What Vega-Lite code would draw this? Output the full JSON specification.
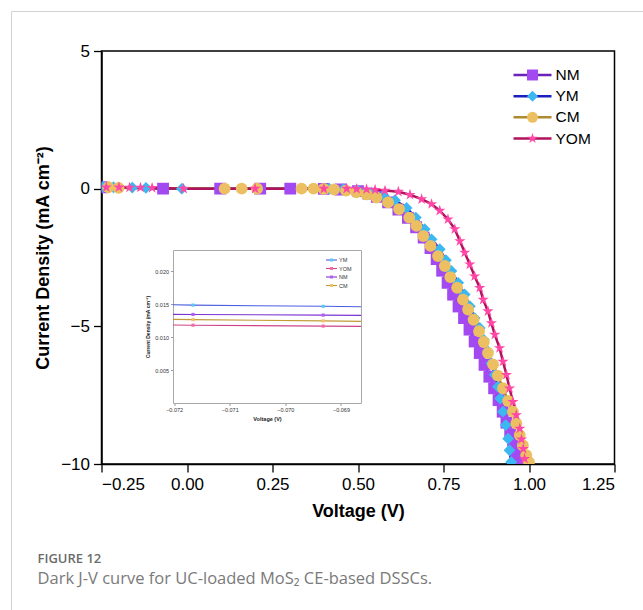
{
  "$schema": "https://vega.github.io/schema/vega-lite/v6.json",
  "width": 513,
  "height": 413,
  "autosize": "none",
  "padding": {"left": 101.5, "top": 51, "right": 28.5, "bottom": 146},
  "background": "white",
  "config": {
    "view": {"stroke": "#000", "strokeWidth": 1.5},
    "font": "Liberation Sans",
    "axis": {"grid": false}
  },
  "title": {
    "text": "FIGURE 12",
    "subtitle": "Dark J-V curve for UC-loaded MoS₂ CE-based DSSCs.",
    "orient": "bottom",
    "anchor": "start",
    "frame": "group",
    "dx": -64,
    "offset": -97.5,
    "font": "Open Sans",
    "fontSize": 13,
    "fontWeight": 600,
    "color": "#6b6b6b",
    "subtitleFont": "Open Sans",
    "subtitleFontSize": 16.5,
    "subtitleColor": "#7a7a7a",
    "subtitlePadding": 5
  },
  "datasets": {
    "main": [
      {"s":"NM","V":-0.248,"J":0.05},{"s":"NM","V":-0.07,"J":0},{"s":"NM","V":0.097,"J":0},{"s":"NM","V":0.214,"J":0},{"s":"NM","V":0.302,"J":0},{"s":"NM","V":0.40,"J":-0.01},{"s":"NM","V":0.45,"J":-0.03},{"s":"NM","V":0.50,"J":-0.09},{"s":"NM","V":0.53,"J":-0.18},{"s":"NM","V":0.555,"J":-0.30},{"s":"NM","V":0.588,"J":-0.50},{"s":"NM","V":0.618,"J":-0.76},{"s":"NM","V":0.646,"J":-1.06},{"s":"NM","V":0.670,"J":-1.40},{"s":"NM","V":0.692,"J":-1.78},{"s":"NM","V":0.712,"J":-2.16},{"s":"NM","V":0.730,"J":-2.56},{"s":"NM","V":0.746,"J":-2.98},{"s":"NM","V":0.762,"J":-3.42},{"s":"NM","V":0.778,"J":-3.85},{"s":"NM","V":0.794,"J":-4.28},{"s":"NM","V":0.810,"J":-4.70},{"s":"NM","V":0.826,"J":-5.12},{"s":"NM","V":0.841,"J":-5.55},{"s":"NM","V":0.856,"J":-5.97},{"s":"NM","V":0.870,"J":-6.40},{"s":"NM","V":0.884,"J":-6.83},{"s":"NM","V":0.898,"J":-7.25},{"s":"NM","V":0.911,"J":-7.68},{"s":"NM","V":0.923,"J":-8.10},{"s":"NM","V":0.934,"J":-8.50},{"s":"NM","V":0.945,"J":-8.92},{"s":"NM","V":0.954,"J":-9.30},{"s":"NM","V":0.962,"J":-9.68},{"s":"NM","V":0.968,"J":-9.98},
      {"s":"YM","V":-0.245,"J":0.06},{"s":"YM","V":-0.215,"J":0.05},{"s":"YM","V":-0.16,"J":0.04},{"s":"YM","V":-0.12,"J":0.03},{"s":"YM","V":-0.015,"J":0},{"s":"YM","V":0.415,"J":0},{"s":"YM","V":0.457,"J":-0.02},{"s":"YM","V":0.50,"J":-0.06},{"s":"YM","V":0.54,"J":-0.15},{"s":"YM","V":0.575,"J":-0.26},{"s":"YM","V":0.608,"J":-0.42},{"s":"YM","V":0.642,"J":-0.70},{"s":"YM","V":0.669,"J":-1.05},{"s":"YM","V":0.695,"J":-1.47},{"s":"YM","V":0.715,"J":-1.84},{"s":"YM","V":0.739,"J":-2.20},{"s":"YM","V":0.757,"J":-2.60},{"s":"YM","V":0.773,"J":-2.99},{"s":"YM","V":0.793,"J":-3.42},{"s":"YM","V":0.812,"J":-3.84},{"s":"YM","V":0.827,"J":-4.27},{"s":"YM","V":0.841,"J":-4.70},{"s":"YM","V":0.856,"J":-5.06},{"s":"YM","V":0.868,"J":-5.49},{"s":"YM","V":0.880,"J":-5.91},{"s":"YM","V":0.890,"J":-6.34},{"s":"YM","V":0.900,"J":-6.76},{"s":"YM","V":0.909,"J":-7.19},{"s":"YM","V":0.916,"J":-7.62},{"s":"YM","V":0.924,"J":-8.10},{"s":"YM","V":0.932,"J":-8.59},{"s":"YM","V":0.939,"J":-9.08},{"s":"YM","V":0.943,"J":-9.50},{"s":"YM","V":0.948,"J":-9.93},
      {"s":"CM","V":-0.23,"J":0.05},{"s":"CM","V":-0.20,"J":0.03},{"s":"CM","V":0.11,"J":0},{"s":"CM","V":0.16,"J":0},{"s":"CM","V":0.205,"J":0},{"s":"CM","V":0.335,"J":0},{"s":"CM","V":0.37,"J":0},{"s":"CM","V":0.40,"J":-0.01},{"s":"CM","V":0.43,"J":-0.03},{"s":"CM","V":0.465,"J":-0.07},{"s":"CM","V":0.495,"J":-0.13},{"s":"CM","V":0.525,"J":-0.21},{"s":"CM","V":0.554,"J":-0.32},{"s":"CM","V":0.588,"J":-0.50},{"s":"CM","V":0.620,"J":-0.74},{"s":"CM","V":0.650,"J":-1.05},{"s":"CM","V":0.671,"J":-1.35},{"s":"CM","V":0.691,"J":-1.72},{"s":"CM","V":0.712,"J":-2.08},{"s":"CM","V":0.734,"J":-2.45},{"s":"CM","V":0.754,"J":-2.81},{"s":"CM","V":0.770,"J":-3.21},{"s":"CM","V":0.790,"J":-3.60},{"s":"CM","V":0.807,"J":-4.03},{"s":"CM","V":0.822,"J":-4.39},{"s":"CM","V":0.838,"J":-4.76},{"s":"CM","V":0.854,"J":-5.18},{"s":"CM","V":0.868,"J":-5.57},{"s":"CM","V":0.880,"J":-5.97},{"s":"CM","V":0.895,"J":-6.38},{"s":"CM","V":0.909,"J":-6.79},{"s":"CM","V":0.924,"J":-7.25},{"s":"CM","V":0.939,"J":-7.71},{"s":"CM","V":0.953,"J":-8.10},{"s":"CM","V":0.963,"J":-8.53},{"s":"CM","V":0.973,"J":-8.95},{"s":"CM","V":0.982,"J":-9.32},{"s":"CM","V":0.992,"J":-9.68},{"s":"CM","V":1.0,"J":-9.93},
      {"s":"YOM","V":-0.236,"J":0.05},{"s":"YOM","V":-0.199,"J":0.05},{"s":"YOM","V":-0.168,"J":0.04},{"s":"YOM","V":-0.136,"J":0.04},{"s":"YOM","V":-0.102,"J":0.03},{"s":"YOM","V":-0.01,"J":0},{"s":"YOM","V":0.199,"J":0},{"s":"YOM","V":0.40,"J":0},{"s":"YOM","V":0.467,"J":0},{"s":"YOM","V":0.496,"J":-0.01},{"s":"YOM","V":0.525,"J":-0.02},{"s":"YOM","V":0.55,"J":-0.04},{"s":"YOM","V":0.579,"J":-0.07},{"s":"YOM","V":0.618,"J":-0.11},{"s":"YOM","V":0.652,"J":-0.22},{"s":"YOM","V":0.686,"J":-0.38},{"s":"YOM","V":0.715,"J":-0.56},{"s":"YOM","V":0.739,"J":-0.80},{"s":"YOM","V":0.763,"J":-1.11},{"s":"YOM","V":0.783,"J":-1.47},{"s":"YOM","V":0.798,"J":-1.90},{"s":"YOM","V":0.812,"J":-2.32},{"s":"YOM","V":0.827,"J":-2.75},{"s":"YOM","V":0.841,"J":-3.18},{"s":"YOM","V":0.856,"J":-3.60},{"s":"YOM","V":0.866,"J":-4.03},{"s":"YOM","V":0.880,"J":-4.45},{"s":"YOM","V":0.890,"J":-4.88},{"s":"YOM","V":0.900,"J":-5.30},{"s":"YOM","V":0.914,"J":-5.79},{"s":"YOM","V":0.924,"J":-6.28},{"s":"YOM","V":0.934,"J":-6.76},{"s":"YOM","V":0.943,"J":-7.25},{"s":"YOM","V":0.953,"J":-7.74},{"s":"YOM","V":0.963,"J":-8.22},{"s":"YOM","V":0.973,"J":-8.71},{"s":"YOM","V":0.978,"J":-9.10},{"s":"YOM","V":0.983,"J":-9.45},{"s":"YOM","V":0.987,"J":-9.81}
    ],
    "inset_line": [
      {"s":"YM","V":-0.07202,"J":0.01489},{"s":"YM","V":-0.07166,"J":0.01484},{"s":"YM","V":-0.06932,"J":0.01466},{"s":"YM","V":-0.06864,"J":0.01459},
      {"s":"NM","V":-0.07202,"J":0.01344},{"s":"NM","V":-0.07166,"J":0.01343},{"s":"NM","V":-0.06932,"J":0.01333},{"s":"NM","V":-0.06864,"J":0.01329},
      {"s":"CM","V":-0.07202,"J":0.01268},{"s":"CM","V":-0.07166,"J":0.01265},{"s":"CM","V":-0.06932,"J":0.01245},{"s":"CM","V":-0.06864,"J":0.01238},
      {"s":"YOM","V":-0.07202,"J":0.01182},{"s":"YOM","V":-0.07166,"J":0.0118},{"s":"YOM","V":-0.06932,"J":0.01166},{"s":"YOM","V":-0.06864,"J":0.01162}
    ],
    "inset_pts": [
      {"s":"YM","V":-0.07166,"J":0.01484},{"s":"YM","V":-0.06932,"J":0.01466},
      {"s":"NM","V":-0.07166,"J":0.01343},{"s":"NM","V":-0.06932,"J":0.01333},
      {"s":"CM","V":-0.07166,"J":0.01265},{"s":"CM","V":-0.06932,"J":0.01245},
      {"s":"YOM","V":-0.07166,"J":0.0118},{"s":"YOM","V":-0.06932,"J":0.01166}
    ]
  },
  "resolve": {
    "scale": {"x": "independent", "y": "independent", "stroke": "independent", "fill": "independent", "shape": "independent"},
    "axis": {"x": "independent", "y": "independent"},
    "legend": {"stroke": "independent", "fill": "independent", "shape": "independent"}
  },
  "layer": [
    {
      "data": {"name": "inset_pts"},
      "mark": {"type": "point", "opacity": 0},
      "encoding": {
        "x": {
          "field": "V", "type": "quantitative",
          "scale": {"domain": [-0.07202, -0.06864], "range": [-90.5, 541.5], "nice": false, "zero": false},
          "axis": {"orient": "top", "offset": 40, "labels": false, "ticks": false, "title": null,
            "domain": true, "domainColor": "#d2d2d2", "domainWidth": 1}
        },
        "y": {
          "field": "J", "type": "quantitative",
          "scale": {"domain": [0, 0.0232], "range": [559, -40], "nice": false, "zero": false},
          "axis": {"orient": "left", "offset": 90.5, "labels": false, "ticks": false, "title": null,
            "domain": true, "domainColor": "#d2d2d2", "domainWidth": 1}
        }
      }
    },
    {
      "data": {"name": "main"},
      "encoding": {
        "x": {
          "field": "V", "type": "quantitative",
          "scale": {"domain": [-0.25, 1.25], "nice": false, "zero": false},
          "axis": {"orient": "bottom", "values": [-0.25, 0, 0.25, 0.5, 0.75, 1, 1.25], "format": ".2f", "title": "Voltage (V)",
            "labelFontSize": 17, "labelColor": "#000", "labelPadding": 4, "tickSize": 8, "tickWidth": 1.3, "tickColor": "#000",
            "domainColor": "#000", "domainWidth": 1.5, "titleFontSize": 18, "titleFontWeight": "bold", "titleColor": "#000", "titlePadding": 10}
        },
        "y": {
          "field": "J", "type": "quantitative",
          "scale": {"domain": [-10, 5], "nice": false, "zero": false},
          "axis": {"orient": "left", "values": [-10, -5, 0, 5], "format": "d", "title": "Current Density (mA cm⁻²)",
            "labelFontSize": 17, "labelColor": "#000", "labelPadding": 4, "tickSize": 8, "tickWidth": 1.3, "tickColor": "#000",
            "domainColor": "#000", "domainWidth": 1.5, "titleFontSize": 18, "titleFontWeight": "bold", "titleColor": "#000", "titlePadding": 8}
        }
      },
      "layer": [
        {
          "mark": {"type": "line", "strokeWidth": 2.5, "clip": true},
          "encoding": {
            "stroke": {
              "field": "s", "type": "nominal", "sort": ["NM", "YM", "CM", "YOM"],
              "scale": {"range": ["#6a22b8", "#1a1fc0", "#b08a2e", "#b0125c"]},
              "legend": {"orient": "none", "legendX": 423.25, "legendY": 16.25, "title": null, "padding": 0,
                "symbolType": "M-4.75,0H4.75", "symbolSize": 64, "symbolStrokeWidth": 2.5,
                "labelFontSize": 15.5, "labelColor": "#000", "labelOffset": 15.25, "rowPadding": 4.17}
            }
          }
        },
        {
          "mark": {"type": "point", "filled": true, "size": 140, "opacity": 1, "strokeWidth": 0, "clip": true},
          "encoding": {
            "fill": {
              "field": "s", "type": "nominal",
              "scale": {"domain": ["NM", "YM", "CM", "YOM"], "range": ["#a349f2", "#3bb8f2", "#ecc062", "#ff48a6"]},
              "legend": {"orient": "none", "legendX": 423.25, "legendY": 16.25, "title": null, "padding": 0,
                "symbolSize": 120, "symbolStrokeWidth": 0, "labelOpacity": 0,
                "labelFontSize": 15.5, "labelOffset": 15.25, "rowPadding": 4.17}
            },
            "shape": {
              "field": "s", "type": "nominal",
              "scale": {"domain": ["NM", "YM", "CM", "YOM"], "range": ["square", "diamond", "circle", "M0,-1L0.2245,-0.309L0.9511,-0.309L0.3633,0.118L0.5878,0.809L0,0.382L-0.5878,0.809L-0.3633,0.118L-0.9511,-0.309L-0.2245,-0.309Z"]},
              "legend": {"orient": "none", "legendX": 423.25, "legendY": 16.25, "title": null, "padding": 0,
                "symbolSize": 120, "symbolStrokeWidth": 0, "labelOpacity": 0,
                "labelFontSize": 15.5, "labelOffset": 15.25, "rowPadding": 4.17}
            }
          }
        }
      ]
    },
    {
      "encoding": {
        "x": {
          "field": "V", "type": "quantitative",
          "scale": {"domain": [-0.07202, -0.06864], "range": [71.5, 259.5], "nice": false, "zero": false},
          "axis": {"orient": "bottom", "offset": -61, "values": [-0.072, -0.071, -0.07, -0.069], "format": ".3f", "title": "Voltage (V)",
            "labelFontSize": 5.5, "labelColor": "#333", "labelPadding": 2, "tickSize": 2.5, "tickWidth": 0.6, "tickColor": "#555",
            "domain": true, "domainColor": "#a8a8a8", "domainWidth": 1, "titleFontSize": 5.5, "titleFontWeight": "bold", "titleColor": "#222", "titlePadding": 3}
        },
        "y": {
          "field": "J", "type": "quantitative",
          "scale": {"domain": [0, 0.0232], "range": [352, 199], "nice": false, "zero": false},
          "axis": {"orient": "left", "offset": -71.5, "values": [0.005, 0.01, 0.015, 0.02], "format": ".3f", "title": "Current Density (mA cm⁻²)",
            "labelFontSize": 5.5, "labelColor": "#333", "labelPadding": 2, "tickSize": 2.5, "tickWidth": 0.6, "tickColor": "#555",
            "domain": true, "domainColor": "#a8a8a8", "domainWidth": 1, "titleFontSize": 5, "titleFontWeight": "bold", "titleColor": "#222", "titlePadding": 4}
        }
      },
      "layer": [
        {
          "data": {"name": "inset_line"},
          "mark": {"type": "line", "strokeWidth": 1.1},
          "encoding": {
            "stroke": {
              "field": "s", "type": "nominal",
              "scale": {"domain": ["YM", "YOM", "NM", "CM"], "range": ["#4b5ee0", "#cf4488", "#7b35d6", "#c39a35"]},
              "legend": {"orient": "none", "legendX": 227.25, "legendY": 206.25, "title": null, "padding": 0,
                "symbolType": "M-5.5,0H5.5", "symbolSize": 4, "symbolStrokeWidth": 1.1,
                "labelFontSize": 5.5, "labelColor": "#333", "labelOffset": 4.75, "rowPadding": 1.5}
            }
          }
        },
        {
          "data": {"name": "inset_pts"},
          "mark": {"type": "point", "filled": true, "shape": "square", "size": 10, "opacity": 1, "strokeWidth": 0},
          "encoding": {
            "fill": {
              "field": "s", "type": "nominal", "sort": ["YM", "YOM", "NM", "CM"],
              "scale": {"range": ["#5cc8f8", "#f26aa9", "#b55cf4", "#f0c26a"]},
              "legend": {"orient": "none", "legendX": 227.25, "legendY": 206.25, "title": null, "padding": 0,
                "symbolType": "square", "symbolSize": 9, "symbolStrokeWidth": 0, "labelOpacity": 0,
                "labelFontSize": 5.5, "labelOffset": 4.75, "rowPadding": 1.5}
            }
          }
        }
      ]
    },
    {
      "data": {"name": "inset_pts"},
      "mark": {"type": "point", "opacity": 0},
      "encoding": {
        "x": {
          "field": "V", "type": "quantitative",
          "scale": {"domain": [-0.07202, -0.06864], "range": [71.5, 259.5], "nice": false, "zero": false},
          "axis": {"orient": "top", "offset": -199, "labels": false, "ticks": false, "title": null,
            "domain": true, "domainColor": "#a8a8a8", "domainWidth": 1}
        },
        "y": {
          "field": "J", "type": "quantitative",
          "scale": {"domain": [0, 0.0232], "range": [352, 199], "nice": false, "zero": false},
          "axis": {"orient": "right", "offset": -253.5, "labels": false, "ticks": false, "title": null,
            "domain": true, "domainColor": "#a8a8a8", "domainWidth": 1}
        }
      }
    }
  ]
}
